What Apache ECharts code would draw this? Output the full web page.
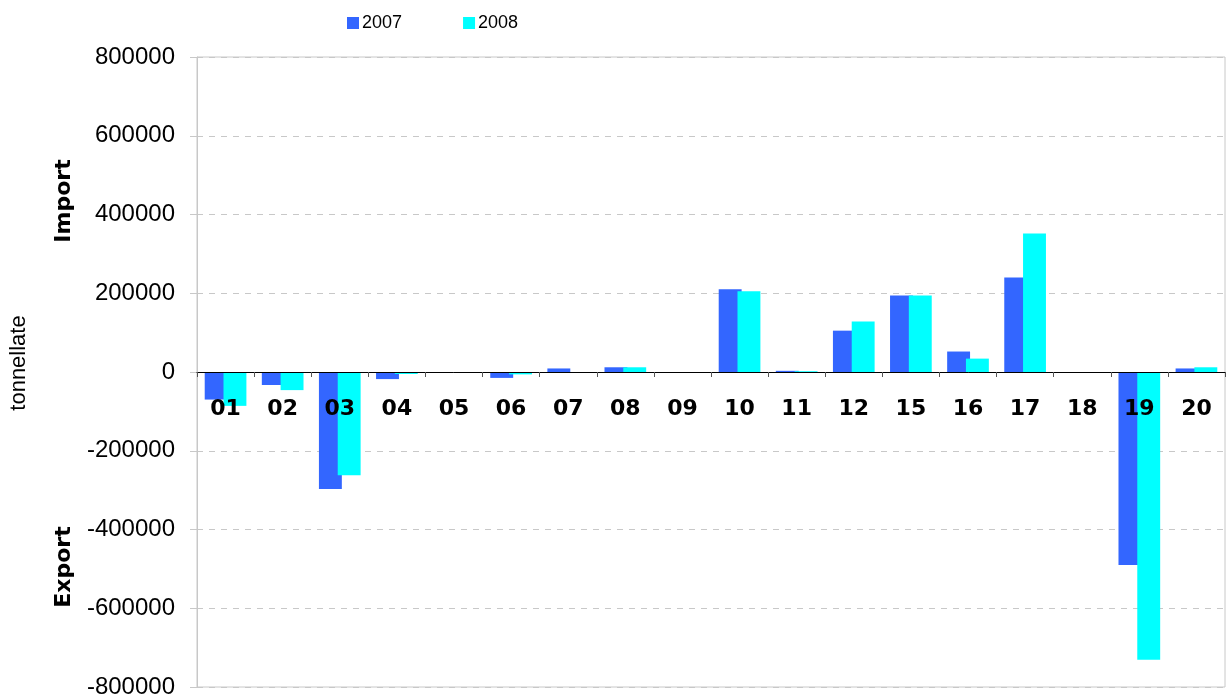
<!DOCTYPE html>
<html>
<head>
<meta charset="utf-8">
<script src="https://cdn.jsdelivr.net/npm/echarts@6/dist/echarts.min.js"></script>
<style>
html,body{margin:0;padding:0;background:#fff;}
#chart{width:1226px;height:699px;}
</style>
</head>
<body>
<div id="chart"></div>
<script>
const categories = ['01','02','03','04','05','06','07','08','09','10','11','12','15','16','17','18','19','20'];
const v2007 = [-70000,-33000,-297000,-18000,0,-15000,9000,12000,0,210000,3000,105000,194000,52000,240000,0,-490000,9000];
const v2008 = [-86000,-46000,-262000,-5000,0,-6000,0,12000,0,205000,2000,128000,194000,34000,352000,0,-731000,12000];
const seriesNames = ['2007','2008'];
const yMin = -800000, yMax = 800000, yStep = 200000;

const chart = echarts.init(document.getElementById('chart'), null, {renderer:'canvas'});
chart.setOption({
  animation:false,
  backgroundColor:'#ffffff',
  legend:{
    left:342, top:9,
    icon:'rect', itemWidth:12, itemHeight:12, itemGap:61,
    textStyle:{fontFamily:'Liberation Sans', fontSize:18, color:'#000', padding:[0,0,0,-2]},
    data:seriesNames
  },
  grid:{left:197, right:1, top:57, bottom:12, show:true, borderColor:'#c8c8c8', borderWidth:1, outerBoundsMode:'none', containLabel:false},
  xAxis:{
    type:'category', data:categories, z:5, position:'bottom', offset:-315,
    axisLine:{onZero:false, lineStyle:{color:'#000', width:1}},
    axisTick:{show:true, alignWithLabel:false, length:5, lineStyle:{color:'#555'}},
    axisLabel:{margin:26, fontFamily:'DejaVu Sans', fontWeight:'bold', fontSize:22, color:'#000', interval:0},
    splitLine:{show:false}
  },
  yAxis:{
    type:'value', min:yMin, max:yMax, interval:yStep,
    axisLine:{show:true, lineStyle:{color:'#c8c8c8'}},
    axisTick:{show:true, length:7, lineStyle:{color:'#c8c8c8'}},
    axisLabel:{margin:22, fontFamily:'Liberation Sans', fontSize:24, color:'#000', formatter:v=>String(v)},
    splitLine:{show:true, lineStyle:{color:'#c8c8c8', type:[6,6]}}
  },
  graphic:[
    {type:'text', x:19, y:363, rotation:Math.PI/2, style:{text:'tonnellate', font:'22px "Liberation Sans"', fill:'#000', textAlign:'center', textVerticalAlign:'middle'}},
    {type:'text', x:64, y:201, rotation:Math.PI/2, style:{text:'Import', font:'bold 22px "DejaVu Sans"', fill:'#000', textAlign:'center', textVerticalAlign:'middle'}},
    {type:'text', x:64, y:567, rotation:Math.PI/2, style:{text:'Export', font:'bold 22px "DejaVu Sans"', fill:'#000', textAlign:'center', textVerticalAlign:'middle'}}
  ],
  series:[
    {name:seriesNames[0], type:'bar', data:v2007, itemStyle:{color:'#3366ff'}, barGap:'-18%', barCategoryGap:'27%'},
    {name:seriesNames[1], type:'bar', data:v2008, itemStyle:{color:'#00ffff'}, barGap:'-18%', barCategoryGap:'27%'}
  ]
});
</script>
</body>
</html>
